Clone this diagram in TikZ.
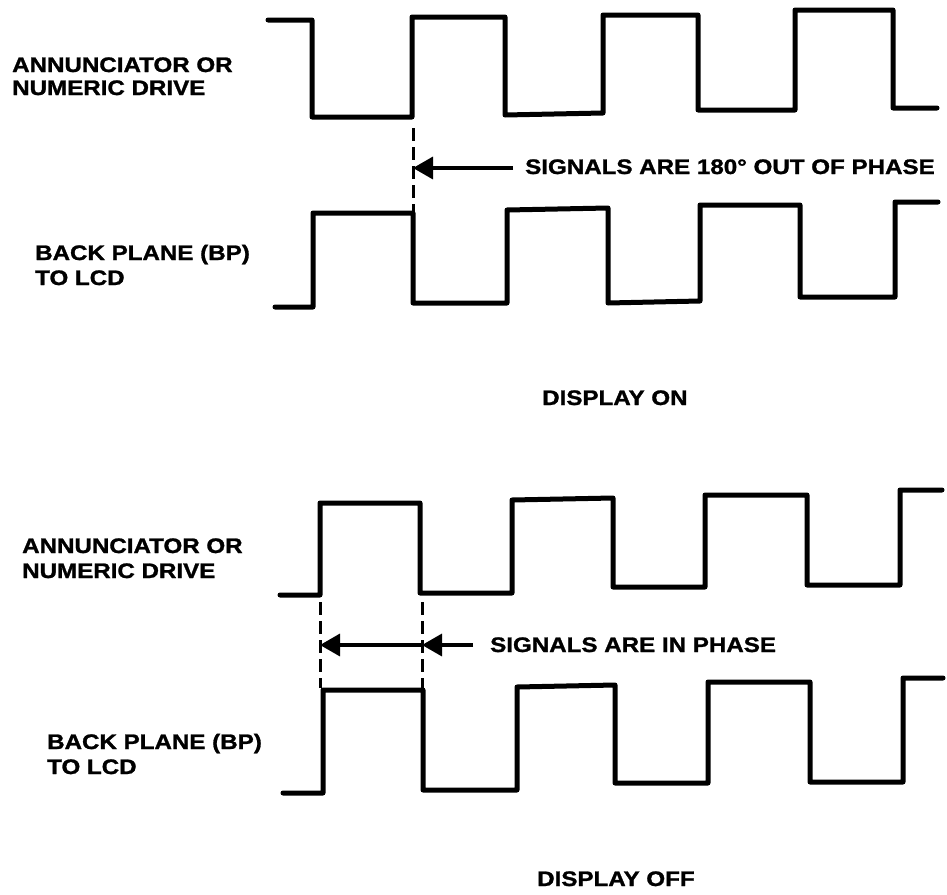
\documentclass[tikz,border=0pt]{standalone}
\usepackage{fontspec}
\setmainfont{Liberation Sans}[BoldFeatures={FakeBold=1.2}]
\usepackage{graphicx}
\usetikzlibrary{arrows.meta}
\newcommand\lbl[1]{\scalebox{1.15}[1]{\bfseries #1}}
\begin{document}
\begin{tikzpicture}[x=1pt,y=-1pt,
  wave/.style={line width=5pt,line join=round,line cap=round},
  guide/.style={line width=3pt,dash pattern=on 13pt off 6pt},
  arr/.style={line width=3.5pt,-{Triangle[length=20pt,width=22pt]}},
  lab/.style={anchor=base west,inner sep=0pt,font=\fontsize{21}{25}\selectfont}]
\useasboundingbox[fill=white] (0,0) rectangle (947,894);

% ---------- DISPLAY ON ----------
\node[lab] (a1) at (12,72) {\lbl{ANNUNCIATOR OR}};
\node[lab] (a2) at (12,95) {\lbl{NUMERIC DRIVE}};
\node[lab] (b1) at (35,260) {\lbl{BACK PLANE (BP)}};
\node[lab] (b2) at (35,285) {\lbl{TO LCD}};
\node[lab] (sig1) at (525,174) {\lbl{SIGNALS ARE 180° OUT OF PHASE}};
\node[lab] (don) at (542,405) {\lbl{DISPLAY ON}};

\draw[wave] (268,20) -- (312,20) -- (312,117) -- (412,117) -- (412,17) -- (505,17)
  -- (505,115) -- (603,113) -- (603,15) -- (698,15) -- (698,110) -- (795,110)
  -- (795,10) -- (893,10) -- (893,108) -- (937,108);
\draw[wave] (275,307) -- (313,307) -- (313,213) -- (413,213) -- (413,303) -- (507,303)
  -- (507,210) -- (608,208) -- (608,303) -- (700,301) -- (700,205) -- (800,205)
  -- (800,297) -- (895,297) -- (895,202) -- (938,202);

\coordinate (g1t) at (413,128);
\coordinate (g1b) at (413,211);
\coordinate (g1m) at (413,168);
\draw[guide] (g1t) -- (g1b);
\draw[arr] ([xshift=-12pt,yshift=6pt]sig1.base west) -- (g1m);

% ---------- DISPLAY OFF ----------
\node[lab] (c1) at (22,553) {\lbl{ANNUNCIATOR OR}};
\node[lab] (c2) at (22,578) {\lbl{NUMERIC DRIVE}};
\node[lab] (d1) at (47,749) {\lbl{BACK PLANE (BP)}};
\node[lab] (d2) at (47,774) {\lbl{TO LCD}};
\node[lab] (sig2) at (490,652) {\lbl{SIGNALS ARE IN PHASE}};
\node[lab] (doff) at (537,886) {\lbl{DISPLAY OFF}};

\draw[wave] (280,595) -- (320,595) -- (320,503) -- (420,503) -- (420,593) -- (512,593)
  -- (512,500) -- (613,498) -- (613,587) -- (705,587) -- (705,495) -- (807,495)
  -- (807,585) -- (900,585) -- (900,490) -- (942,490);
\draw[wave] (283,793) -- (323,793) -- (323,690) -- (423,690) -- (423,790) -- (517,790)
  -- (517,687) -- (615,685) -- (615,783) -- (708,783) -- (708,682) -- (810,682)
  -- (810,782) -- (903,782) -- (903,678) -- (943,678);

\coordinate (g2t) at (320,602);
\coordinate (g2b) at (320,688);
\coordinate (g2m) at (320,645);
\coordinate (g3t) at (422,602);
\coordinate (g3b) at (422,688);
\coordinate (g3m) at (422,645);
\draw[guide] (g2t) -- (g2b);
\draw[guide] (g3t) -- (g3b);
\draw[arr] (g3m) -- (g2m);
\draw[arr] ([xshift=-17pt,yshift=7pt]sig2.base west) -- (g3m);
\end{tikzpicture}
\end{document}
